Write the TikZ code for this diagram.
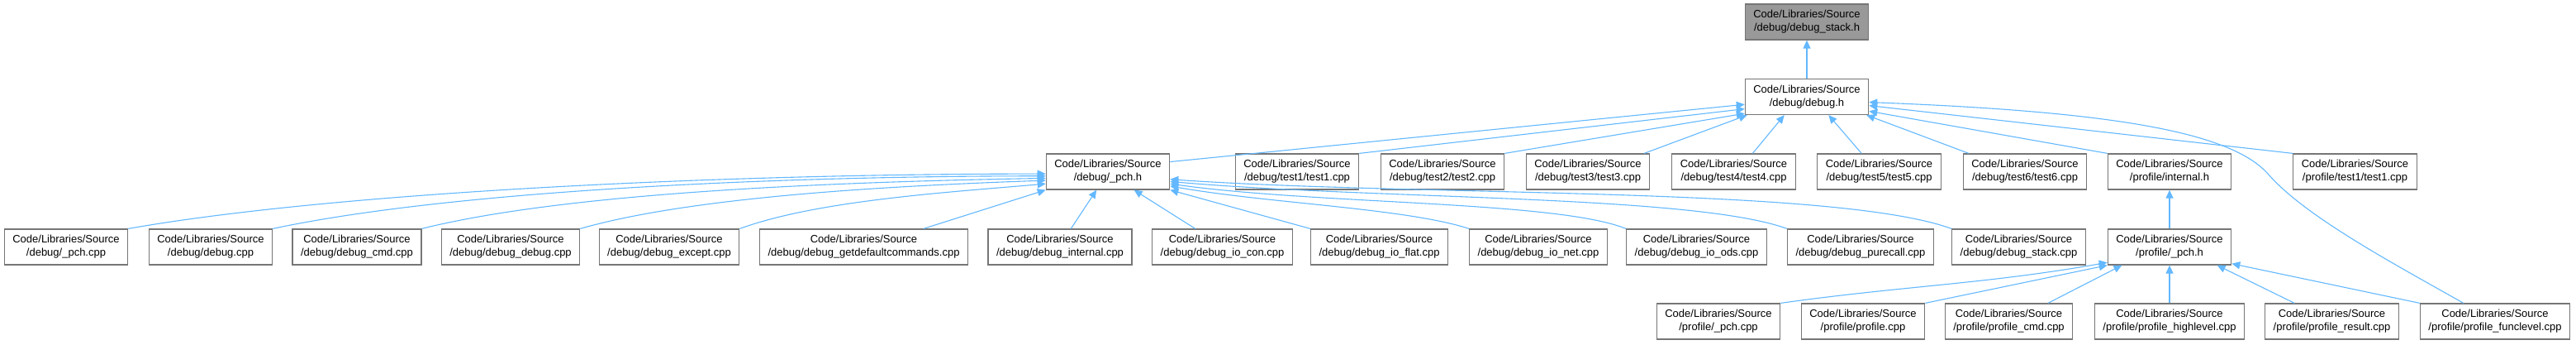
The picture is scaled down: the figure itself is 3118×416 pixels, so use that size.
\documentclass[tikz,border=0pt]{standalone}
\usepackage{fontspec}
\setmainfont{Liberation Sans}
\usetikzlibrary{arrows.meta, positioning}
\definecolor{EdgeBlue}{RGB}{99,184,255}
\definecolor{BoxLine}{RGB}{118,118,118}
\definecolor{BoxGray}{RGB}{153,153,153}

\begin{document}
\begin{tikzpicture}[x=1pt, y=1pt,
    file/.style={draw=BoxLine, fill=white, line width=1.2pt,
                 font=\fontsize{13}{16}\selectfont, align=center,
                 inner xsep=10pt, inner ysep=3pt, minimum height=43pt},
    cur/.style={file, fill=BoxGray},
    dep/.style={draw=EdgeBlue, line width=1.1pt, <-, >={Triangle[length=10pt, width=9pt]}}]
  \useasboundingbox (0,0) rectangle (3118,-416);

  % header and its direct includer
  \node[cur]  (stackh) at (2187,-26.5) {Code/Libraries/Source\\/debug/debug\_stack.h};
  \node[file] (debugh) at (2187,-117)  {Code/Libraries/Source\\/debug/debug.h};

  % files including debug.h
  \node[file] (pchh)        at (1341,-207.5) {Code/Libraries/Source\\/debug/\_pch.h};
  \node[file] (test1cpp)    at (1570,-207.5) {Code/Libraries/Source\\/debug/test1/test1.cpp};
  \node[file] (test2cpp)    at (1746,-207.5) {Code/Libraries/Source\\/debug/test2/test2.cpp};
  \node[file] (test3cpp)    at (1922,-207.5) {Code/Libraries/Source\\/debug/test3/test3.cpp};
  \node[file] (test4cpp)    at (2098.5,-207.5) {Code/Libraries/Source\\/debug/test4/test4.cpp};
  \node[file] (test5cpp)    at (2274.5,-207.5) {Code/Libraries/Source\\/debug/test5/test5.cpp};
  \node[file] (test6cpp)    at (2451,-207.5) {Code/Libraries/Source\\/debug/test6/test6.cpp};
  \node[file] (profinth)    at (2626,-207.5) {Code/Libraries/Source\\/profile/internal.h};
  \node[file] (proftestcpp) at (2850.5,-207.5) {Code/Libraries/Source\\/profile/test1/test1.cpp};

  % files including debug/_pch.h
  \node[file] (pchcpp)      at (80,-298.5)   {Code/Libraries/Source\\/debug/\_pch.cpp};
  \node[file] (debugcpp)    at (255,-298.5)  {Code/Libraries/Source\\/debug/debug.cpp};
  \node[file] (cmdcpp)      at (432,-298.5)  {Code/Libraries/Source\\/debug/debug\_cmd.cpp};
  \node[file] (dbgcpp)      at (618,-298.5)  {Code/Libraries/Source\\/debug/debug\_debug.cpp};
  \node[file] (exceptcpp)   at (810,-298.5)  {Code/Libraries/Source\\/debug/debug\_except.cpp};
  \node[file] (getdefcpp)   at (1045.5,-298.5) {Code/Libraries/Source\\/debug/debug\_getdefaultcommands.cpp};
  \node[file] (internalcpp) at (1283,-298.5) {Code/Libraries/Source\\/debug/debug\_internal.cpp};
  \node[file] (ioconcpp)    at (1479.5,-298.5) {Code/Libraries/Source\\/debug/debug\_io\_con.cpp};
  \node[file] (ioflatcpp)   at (1669.5,-298.5) {Code/Libraries/Source\\/debug/debug\_io\_flat.cpp};
  \node[file] (ionetcpp)    at (1862,-298.5) {Code/Libraries/Source\\/debug/debug\_io\_net.cpp};
  \node[file] (ioodscpp)    at (2053.5,-298.5) {Code/Libraries/Source\\/debug/debug\_io\_ods.cpp};
  \node[file] (purecallcpp) at (2252,-298.5) {Code/Libraries/Source\\/debug/debug\_purecall.cpp};
  \node[file] (stackcpp)    at (2443.5,-298.5) {Code/Libraries/Source\\/debug/debug\_stack.cpp};
  \node[file] (profpchh)    at (2626,-298.5) {Code/Libraries/Source\\/profile/\_pch.h};

  % files including profile/_pch.h
  \node[file] (profpchcpp)    at (2080,-388.5)   {Code/Libraries/Source\\/profile/\_pch.cpp};
  \node[file] (profilecpp)    at (2255,-388.5)   {Code/Libraries/Source\\/profile/profile.cpp};
  \node[file] (profcmdcpp)    at (2431.5,-388.5) {Code/Libraries/Source\\/profile/profile\_cmd.cpp};
  \node[file] (profhighcpp)   at (2626,-388.5)   {Code/Libraries/Source\\/profile/profile\_highlevel.cpp};
  \node[file] (profresultcpp) at (2822.5,-388.5) {Code/Libraries/Source\\/profile/profile\_result.cpp};
  \node[file] (proffunccpp)   at (3020,-388.5)   {Code/Libraries/Source\\/profile/profile\_funclevel.cpp};

  % include edges, arrow on the included file
  \draw[dep] (stackh.south) -- (debugh.north);

  \draw[dep] (debugh.187) -- (pchh.9);
  \draw[dep] (debugh.191) -- (test1cpp.north east);
  \draw[dep] (debugh.195) -- (test2cpp.north east);
  \draw[dep] (debugh.197) -- (test3cpp.18);
  \draw[dep] (debugh.219) -- (test4cpp.44);
  \draw[dep] (debugh.320) -- (test5cpp.134);
  \draw[dep] (debugh.343) -- (test6cpp.162);
  \draw[dep] (debugh.347) -- (profinth.north west);
  \draw[dep] (debugh.352) -- (proftestcpp.north west);
  \draw[dep] (debugh.355) .. controls (2560,-135) and (2700,-160) .. (2745,-210)
                          .. controls (2790,-262) and (2900,-320) .. (proffunccpp.150);

  \draw[dep] (pchh.182) .. controls +(180:400) and +(10:250) .. (pchcpp.north east);
  \draw[dep] (pchh.184) .. controls +(180:330) and +(12:220) .. (debugcpp.north east);
  \draw[dep] (pchh.186) .. controls +(181:260) and +(14:180) .. (cmdcpp.north east);
  \draw[dep] (pchh.188) .. controls +(182:190) and +(16:140) .. (dbgcpp.north east);
  \draw[dep] (pchh.191) .. controls +(185:120) and +(20:100) .. (exceptcpp.north east);
  \draw[dep] (pchh.south west) -- (getdefcpp.17);
  \draw[dep] (pchh.238) -- (internalcpp.59);
  \draw[dep] (pchh.325) -- (ioconcpp.146);
  \draw[dep] (pchh.south east) -- (ioflatcpp.north west);
  \draw[dep] (pchh.347) .. controls +(-10:120) and +(162:80) .. (ionetcpp.north west);
  \draw[dep] (pchh.349) .. controls +(-8:180) and +(158:90) .. (ioodscpp.north west);
  \draw[dep] (pchh.351) .. controls +(-5:250) and +(160:120) .. (purecallcpp.north west);
  \draw[dep] (pchh.353) .. controls +(-4:300) and +(160:150) .. (stackcpp.north west);

  \draw[dep] (profinth.south) -- (profpchh.north);
  \draw[dep] (profpchh.194) .. controls +(190:150) and +(8:150) .. (profpchcpp.north east);
  \draw[dep] (profpchh.south west) -- (profilecpp.north east);
  \draw[dep] (profpchh.201) -- (profcmdcpp.25);
  \draw[dep] (profpchh.south) -- (profhighcpp.north);
  \draw[dep] (profpchh.339) -- (profresultcpp.154);
  \draw[dep] (profpchh.345) -- (proffunccpp.north west);
\end{tikzpicture}
\end{document}
